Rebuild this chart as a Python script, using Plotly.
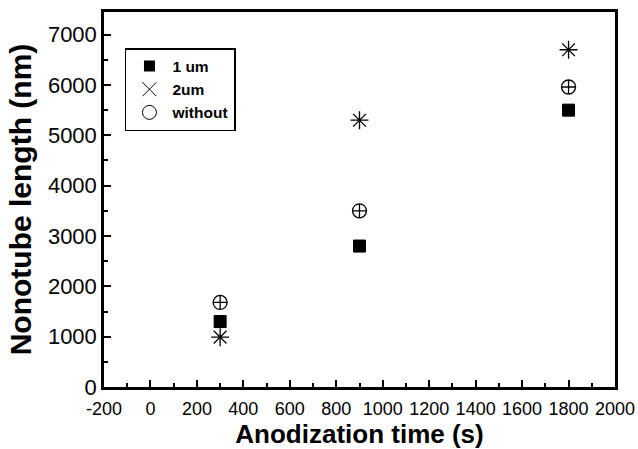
import plotly.graph_objects as go

time_s = [300, 900, 1800]
len_1um = [1300, 2800, 5500]
len_2um = [990, 5300, 6700]
len_without = [1680, 3500, 5960]

x_ticks = list(range(-200, 2001, 200))
y_ticks = list(range(0, 7001, 1000))

FONT = "Liberation Sans, Arial, sans-serif"

fig = go.Figure()

# data traces
fig.add_trace(go.Scatter(x=time_s, y=len_1um, mode="markers", showlegend=False,
                         marker=dict(symbol="square", size=12, color="black",
                                     line=dict(color="black", width=1))))
fig.add_trace(go.Scatter(x=time_s, y=len_2um, mode="markers", showlegend=False,
                         marker=dict(symbol="asterisk-open", size=15, color="black",
                                     line=dict(color="black", width=1.3))))
fig.add_trace(go.Scatter(x=time_s, y=len_without, mode="markers", showlegend=False,
                         marker=dict(symbol="circle-cross-open", size=14, color="black",
                                     line=dict(color="black", width=1.3))))

# legend entries
fig.add_trace(go.Scatter(x=[None], y=[None], mode="markers", name="1 um",
                         marker=dict(symbol="square", size=11, color="black")))
fig.add_trace(go.Scatter(x=[None], y=[None], mode="markers", name="2um",
                         marker=dict(symbol="x-thin-open", size=14, color="black",
                                     line=dict(color="black", width=1))))
fig.add_trace(go.Scatter(x=[None], y=[None], mode="markers", name="without",
                         marker=dict(symbol="circle-open", size=14, color="black",
                                     line=dict(color="black", width=1))))

axis_common = dict(
    showgrid=False, zeroline=False, showline=True, linecolor="black", linewidth=2.5,
    mirror=True, ticks="inside", tickcolor="black", tickwidth=2,
    ticklen=7, automargin=False,
)

fig.update_xaxes(
    **axis_common, range=[-200, 2000], tickvals=x_ticks,
    ticktext=[str(v) for v in x_ticks],
    tickfont=dict(family=FONT, size=18, color="black"),
    ticklabelstandoff=4,
    minor=dict(dtick=100, ticklen=4, tickwidth=2, tickcolor="black", ticks="inside"),
    title=dict(text="<b>Anodization time (s)</b>",
               font=dict(family=FONT, size=26, color="black"), standoff=8),
)
fig.update_yaxes(
    **axis_common, range=[0, 7450], tickvals=y_ticks,
    ticktext=[str(v) for v in y_ticks],
    tickfont=dict(family=FONT, size=22, color="black"),
    minor=dict(dtick=500, ticklen=4, tickwidth=2, tickcolor="black", ticks="inside"),
    title=dict(text="<b>Nonotube length (nm)</b>",
               font=dict(family=FONT, size=30, color="black"), standoff=8),
)

fig.update_layout(
    width=638, height=449,
    margin=dict(l=104, r=23, t=12, b=62),
    paper_bgcolor="white", plot_bgcolor="white",
    font=dict(family=FONT, color="black"),
    legend=dict(x=0.041, y=0.904, xanchor="left", yanchor="top",
                bgcolor="white", bordercolor="black", borderwidth=1.5,
                font=dict(family=FONT, size=15.5, color="black", weight="bold"),
                itemwidth=36, tracegroupgap=0),
)

fig.write_html("out.html")
